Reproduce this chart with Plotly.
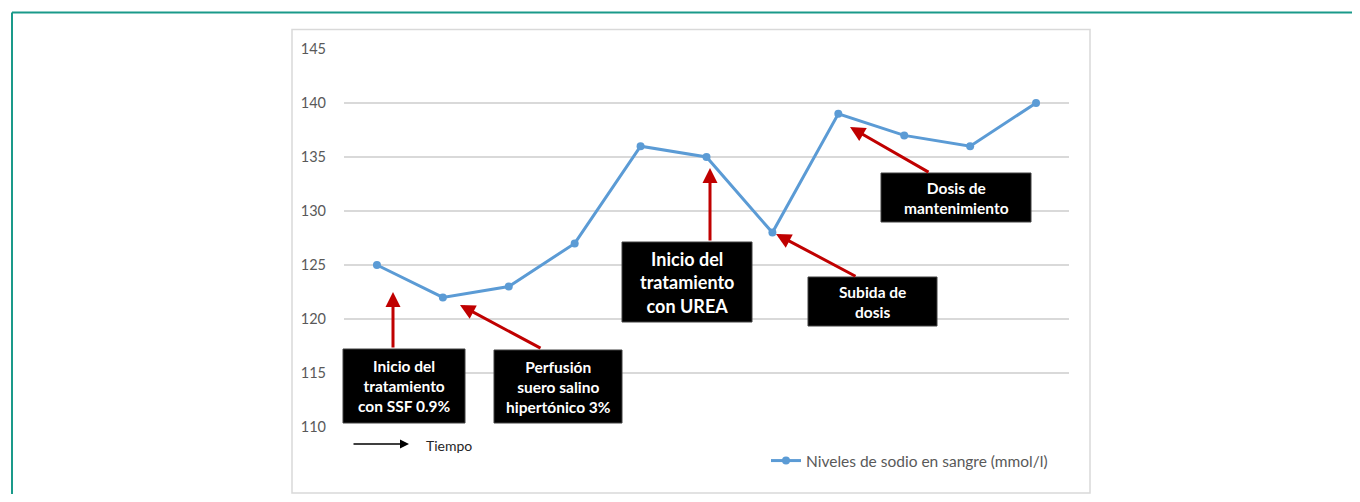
import plotly.graph_objects as go

# ---- data ----
time_points = list(range(1, 12))
sodium = [125, 122, 123, 127, 136, 135, 128, 139, 137, 136, 140]
y_ticks = [110, 115, 120, 125, 130, 135, 140, 145]
series_name = "Niveles de sodio en sangre (mmol/l)"

notes = [
    "Inicio del<br>tratamiento<br>con SSF 0.9%",
    "Perfusión<br>suero salino<br>hipertónico 3%",
    "Inicio del<br>tratamiento<br>con UREA",
    "Subida de<br>dosis",
    "Dosis de<br>mantenimiento",
]

# ---- layout geometry (pixels, reference coordinates; page body has 8px margin) ----
OFF = 8
W, H = 1360 - 2 * OFF, 502 - 2 * OFF
PL, PT = 344, 49          # plot-area top-left in reference pixels
PW, PH = 725, 378
L, T = PL - OFF, PT - OFF
R, B = W - L - PW, H - T - PH


def px(x):
    return (x - PL) / PW


def py(y):
    return (PT + PH - y) / PH


FONT = "Lato, Carlito, Calibri, sans-serif"
RED = "#c00000"
TEAL = "#1a9a8a"

fig = go.Figure()
fig.add_trace(go.Scatter(
    x=time_points, y=sodium, mode="lines+markers", name=series_name,
    line=dict(color="#5b9bd5", width=3),
    marker=dict(color="#5b9bd5", size=8),
))

shapes = []
# outer teal frame (top and left edges)
shapes.append(dict(type="line", xref="paper", yref="paper",
                   x0=px(12), x1=px(1400), y0=py(12.5), y1=py(12.5),
                   line=dict(color=TEAL, width=2), layer="below"))
shapes.append(dict(type="line", xref="paper", yref="paper",
                   x0=px(12), x1=px(12), y0=py(12.5), y1=py(540),
                   line=dict(color=TEAL, width=2), layer="below"))
# inner chart frame
shapes.append(dict(type="rect", xref="paper", yref="paper",
                   x0=px(292), x1=px(1090), y0=py(29.5), y1=py(493),
                   line=dict(color="#d9d9d9", width=1.5), layer="below"))

# annotation boxes: (x0, x1, y0, y1, font size)
boxes = [
    (343, 465, 349, 423, 15.5),
    (494, 622, 350, 423, 15.5),
    (622, 752, 242, 322, 18),
    (808, 937, 277, 326, 15.5),
    (881, 1031, 173, 222, 15.5),
]
# arrows: (tip x, tip y, tail x, tail y)
arrows = [
    (393, 292, 393, 349),
    (460, 305, 542, 349),
    (710, 168, 710, 242),
    (776, 234, 857, 277),
    (850, 127, 930, 173),
]

annotations = []
for (tx, ty, sx, sy) in arrows:
    annotations.append(dict(
        xref="paper", yref="paper", x=px(tx), y=py(ty), text="",
        showarrow=True, ax=sx - tx, ay=sy - ty,
        arrowhead=2, arrowsize=1, arrowwidth=3, arrowcolor=RED,
    ))

for text, (x0, x1, y0, y1, fs) in zip(notes, boxes):
    shapes.append(dict(type="rect", xref="paper", yref="paper",
                       x0=px(x0), x1=px(x1), y0=py(y0), y1=py(y1),
                       fillcolor="black", line=dict(color="#404040", width=1),
                       layer="above"))
    annotations.append(dict(
        xref="paper", yref="paper", x=px((x0 + x1) / 2), y=py((y0 + y1) / 2),
        xanchor="center", yanchor="middle", text=f"<b>{text}</b>",
        showarrow=False, font=dict(family=FONT, size=fs, color="white"),
    ))

# Tiempo arrow
annotations.append(dict(
    xref="paper", yref="paper", x=px(409), y=py(444), text="",
    showarrow=True, ax=-57, ay=0, arrowhead=2, arrowsize=1.2,
    arrowwidth=1.5, arrowcolor="black",
))
annotations.append(dict(
    xref="paper", yref="paper", x=px(424), y=py(445), text="Tiempo",
    xanchor="left", yanchor="middle", showarrow=False,
    font=dict(family=FONT, size=14, color="#262626"),
))

fig.update_layout(
    width=W, height=H,
    margin=dict(l=L, r=R, t=T, b=B),
    paper_bgcolor="white", plot_bgcolor="white",
    font=dict(family=FONT, size=14, color="#595959"),
    xaxis=dict(range=[0.5, 11.5], showticklabels=False, showgrid=False,
               zeroline=False, showline=False, fixedrange=True),
    yaxis=dict(range=[110, 145], tickvals=y_ticks, showgrid=True,
               gridcolor="#d9d9d9", gridwidth=1.5, zeroline=False,
               showline=False, ticklabelstandoff=17,
               tickfont=dict(family=FONT, size=14.5, color="#595959")),
    showlegend=True,
    legend=dict(orientation="h", x=px(766), y=py(461), xanchor="left",
                yanchor="middle", bgcolor="rgba(0,0,0,0)",
                font=dict(family=FONT, size=15.5, color="#595959")),
    shapes=shapes,
    annotations=annotations,
)

fig.write_html("out.html")
